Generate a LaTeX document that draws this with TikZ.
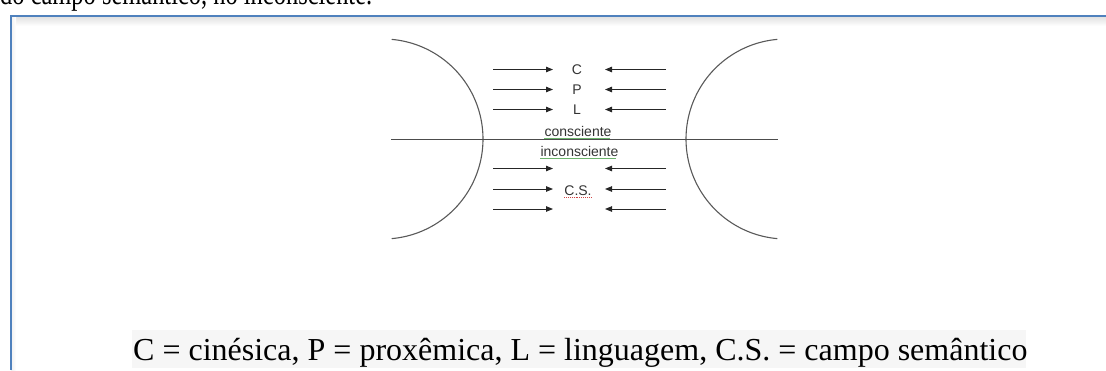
\documentclass[tikz,border=0pt]{standalone}
\usepackage{fontspec}
\setmainfont{Liberation Serif}
\newfontfamily\arialf{Liberation Sans}
\usetikzlibrary{arrows.meta}
\definecolor{frameblue}{RGB}{79,129,189}
\definecolor{spellgreen}{RGB}{110,180,110}
\definecolor{spellred}{RGB}{210,70,70}
\definecolor{capbg}{RGB}{246,246,246}
\begin{document}
\begin{tikzpicture}[x=1pt,y=-1pt,
  curve/.style={draw=black!65, line width=1.1pt},
  axisline/.style={draw=black!70, line width=1.1pt},
  arr/.style={draw=black!85, line width=0.9pt, -{Triangle[length=7pt,width=5.5pt]}},
  lbl/.style={font=\arialf\fontsize{14}{16}\selectfont, text=black!80, inner sep=0pt, anchor=base},
  serif/.style={font=\fontsize{32}{38}\selectfont, inner sep=0pt, anchor=base west},
  underl/.style={line width=0.9pt},
]
\useasboundingbox (0,0) rectangle (1106,370);
\clip (0,0) rectangle (1106,370);
% cut-off text above the frame
\node[serif] (toptext) at (0,4.5) {\resizebox{372pt}{\height}{do campo semântico, no inconsciente.}};
% frame with soft shadow
\shade[top color=black!12, bottom color=white] (11,16.5) rectangle (1106,26);
\shade[left color=black!6, right color=white] (11,16.5) rectangle (16,370);
\draw[draw=frameblue, line width=2pt] (10.5,370) -- (10.5,15.5) -- (1106,15.5);

% arcs
\draw[curve] plot[domain=-85:85, samples=80, smooth] ({383+100*cos(\x)},{139+100*sin(\x)});
\draw[curve] plot[domain=95:265, samples=80, smooth] ({786+100*cos(\x)},{139+100*sin(\x)});
% horizontal line
\coordinate (hl) at (391,139.3);
\coordinate (hr) at (778,139.3);
\draw[axisline] (hl) -- (hr);

% labels
\node[lbl] (C) at (577,74.3) {C};
\node[lbl] (P) at (577,94.3) {P};
\node[lbl] (L) at (577,114.3) {L};
\node[lbl] (cons) at (578,136) {consciente};
\node[lbl] (incons) at (579.5,156) {inconsciente};
\node[lbl] (CS) at (578,195) {C.S.};
% spell-check underlines
\draw[underl, spellgreen] (cons.base west) ++(0,2) -- ++(66,0);
\draw[underl, spellgreen] (incons.base west) ++(0,2) -- ++(76,0);
\draw[underl, spellred, densely dotted] (CS.base west) ++(0,2.5) -- ++(27,0);

% arrows
\foreach \i/\y in {1/69.5,2/89.5,3/109.5,4/168.5,5/189,6/209}{
  \coordinate (ls\i) at (493,\y);
  \coordinate (lt\i) at (553,\y);
  \coordinate (rs\i) at (666,\y);
  \coordinate (rt\i) at (605,\y);
  \draw[arr] (ls\i) -- (lt\i);
  \draw[arr] (rs\i) -- (rt\i);
}

% caption
\fill[capbg] (131.5,330) rectangle (1026,368);
\node[serif] (caption) at (133,360.7) {C = cinésica, P = proxêmica, L = linguagem, C.S. = campo semântico};
\end{tikzpicture}
\end{document}
